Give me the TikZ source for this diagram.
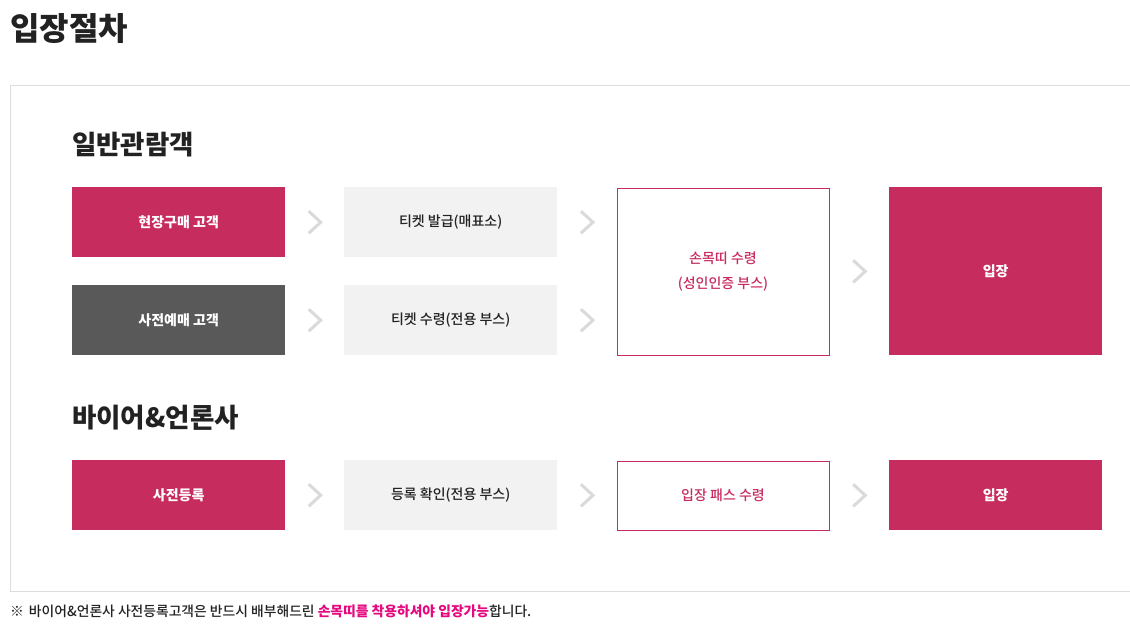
\documentclass[tikz,border=0pt]{standalone}
\usepackage{fontspec}
\setmainfont{Noto Sans CJK KR}
\newfontfamily\medfont{Noto Sans CJK KR Medium}
\usetikzlibrary{calc}
\definecolor{brand}{HTML}{C72C5F}
\definecolor{darkbox}{HTML}{595959}
\definecolor{lightbox}{HTML}{F2F2F2}
\definecolor{chev}{HTML}{DADADA}
\definecolor{framec}{HTML}{DDDDDD}
\definecolor{txt}{HTML}{222222}
\definecolor{hot}{HTML}{E5097F}
\tikzset{
  box/.style={anchor=north west, minimum width=213pt, minimum height=70pt, inner sep=0pt, font=\fontsize{14}{18}\selectfont, align=center},
  redbox/.style={box, fill=brand, text=white, font=\fontsize{14}{18}\selectfont\bfseries},
  graybox/.style={box, fill=darkbox, text=white, font=\fontsize{14}{18}\selectfont\bfseries},
  lightgbox/.style={box, fill=lightbox, text=txt, font=\fontsize{14}{18}\selectfont\medfont},
  linebox/.style={box, draw=brand, line width=1pt, text=brand, minimum width=212pt, font=\fontsize{14}{18}\selectfont\medfont},
  tall/.style={minimum height=167pt},
  chevron/.style={draw=chev, line width=3pt},
  heading/.style={anchor=base west, inner sep=0pt, text=txt, font=\fontsize{26.5}{30}\selectfont\bfseries},
}
\newcommand{\chevat}[1]{\draw[chevron] ($(#1)+(-6,-11)$) -- ($(#1)+(6,0)$) -- ($(#1)+(-6,11)$);}
\begin{document}
\begin{tikzpicture}[x=1pt,y=-1pt]
\useasboundingbox (0,0) rectangle (1130,633);
\fill[white] (0,0) rectangle (1130,633);
% frame
\draw[framec, line width=1pt] (1131,85.5) -- (10.5,85.5) -- (10.5,591) -- (1131,591);
% title
\node[anchor=base west, inner sep=0pt, text=txt, font=\fontsize{32}{36}\selectfont\bfseries] (title) at (10,40) {입장절차};
% section 1
\node[heading] (h1) at (72,154) {일반관람객};
\node[heading] (h2) at (72,427) {바이어\&언론사};
\node[redbox] (a1) at (72,187) {현장구매 고객};
\node[graybox] (a2) at (72,285) {사전예매 고객};
\node[lightgbox] (b1) at (344,187) {티켓 발급(매표소)};
\node[lightgbox] (b2) at (344,285) {티켓 수령(전용 부스)};
\node[linebox, tall] (c1) at (616.5,187.5) {손목띠 수령\\[7pt](성인인증 부스)};
\node[redbox, tall, minimum height=168pt] (d1) at (889,187) {입장};
% section 2
\node[redbox] (a3) at (72,460) {사전등록};
\node[lightgbox] (b3) at (344,460) {등록 확인(전용 부스)};
\node[linebox, minimum height=69pt] (c3) at (616.5,460.5) {입장 패스 수령};
\node[redbox] (d3) at (889,460) {입장};
% chevrons
\coordinate (k1) at ($(a1.east)!0.5!(b1.west)$);
\coordinate (k2) at ($(a2.east)!0.5!(b2.west)$);
\coordinate (k3) at ($(b1.east)!0.5!(c1.west |- b1.east)$);
\coordinate (k4) at ($(b2.east)!0.5!(c1.west |- b2.east)$);
\coordinate (k5) at ($(c1.east)!0.5!(d1.west)$);
\coordinate (k6) at ($(a3.east)!0.5!(b3.west)$);
\coordinate (k7) at ($(b3.east)!0.5!(c3.west)$);
\coordinate (k8) at ($(c3.east)!0.5!(d3.west)$);
\foreach \k in {k1,k2,k3,k4,k5,k6,k7,k8}{\chevat{\k}}
% footnote
\node[anchor=base west, inner sep=0pt, text=txt, font=\fontsize{13.8}{18}\selectfont\medfont] (note) at (10,616)
  {※\hspace{5pt}바이어\&언론사 사전등록고객은 반드시 배부해드린 {\color{hot}\bfseries 손목띠를 착용하셔야 입장가능}합니다.};
\end{tikzpicture}
\end{document}
